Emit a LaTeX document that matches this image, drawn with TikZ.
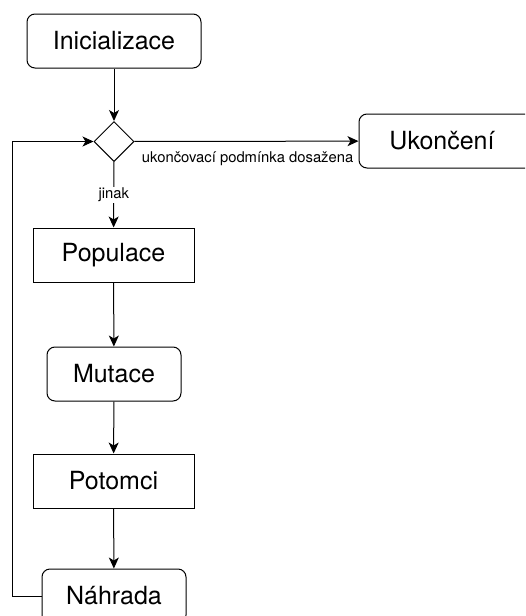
\documentclass[tikz,border=0pt]{standalone}
\usepackage{fontspec}
\setmainfont{TeX Gyre Heros}
\usetikzlibrary{shapes.geometric,arrows.meta}

\begin{document}
\begin{tikzpicture}[x=1pt,y=-1pt,line width=1pt,
    box/.style={draw,inner sep=0pt,minimum height=54pt,font=\fontsize{25}{30}\selectfont},
    rbox/.style={box,rounded corners=8pt},
    cond/.style={draw,diamond,inner sep=0pt,minimum width=40pt,minimum height=40pt},
    lbl/.style={font=\fontsize{14.8}{17}\selectfont,inner sep=1pt},
    flow/.style={-{Stealth[length=11pt,width=10pt,inset=3pt]}}]
  \useasboundingbox (0,0) rectangle (525,616);
  \clip (0,0) rectangle (525,616);

  % the end box runs out past the right edge
  \node[rbox,minimum width=190pt] (end) at (454,141) {};
  \node[font=\fontsize{25}{30}\selectfont] (endtext) at (442,141) {Ukončení};
  \node[rbox,minimum width=174pt] (init) at (114,41) {Inicializace};
  \node[cond] (dec) at (114,141.5) {};
  \node[box,minimum width=161pt] (pop) at (113.5,255) {Populace};
  \node[rbox,minimum width=134pt] (mut) at (114,374) {Mutace};
  \node[box,minimum width=161pt] (pot) at (113.5,481) {Potomci};
  \node[rbox,minimum width=144pt] (nah) at (114,596) {Náhrada};
  \coordinate (back) at (12,596);

  \draw[flow] (init) -- (dec);
  \draw[flow] (dec) -- (end)
    node[lbl,pos=0,anchor=west,xshift=6pt,yshift=-17pt] {ukončovací podmínka dosažena};
  \draw[flow] (dec) -- (pop) node[lbl,midway,fill=white] {jinak};
  \draw[flow] (pop) -- (mut);
  \draw[flow] (mut) -- (pot);
  \draw[flow] (pot) -- (nah);
  \draw[flow] (nah.west) -- (back) |- (dec.west);
\end{tikzpicture}
\end{document}
